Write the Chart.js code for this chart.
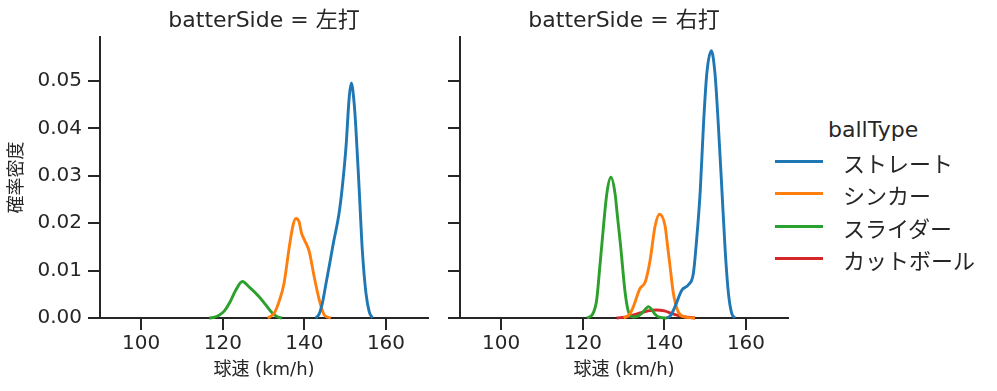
<!DOCTYPE html>
<html lang="ja">
<head>
<meta charset="utf-8">
<title>球速 確率密度</title>
<script src="https://cdn.jsdelivr.net/npm/chart.js"></script>
<style>
  html, body { margin: 0; padding: 0; background: #fff; }
  #wrap { position: relative; width: 997px; height: 391px; font-family: 'DejaVu Sans', 'Noto Sans CJK JP', sans-serif; color: #262626; }
  .panel { position: absolute; top: 0; height: 391px; }
  #leftPanel { left: 0; width: 440px; }
  #rightPanel { left: 440px; width: 350px; }
  #legendTitle { position: absolute; left: 828px; top: 117px; font-size: 22px; line-height: 26px; }
  .legendItem { position: absolute; left: 775px; height: 26px; font-size: 22px; line-height: 26px; }
  .legendItem span.swatch { position: absolute; left: 0; top: 11px; width: 48px; height: 3px; }
  .legendItem span.label { position: absolute; left: 68px; top: 0; white-space: nowrap; font-family: 'Noto Sans CJK JP', sans-serif; }
</style>
</head>
<body>
<div id="wrap">
  <div class="panel" id="leftPanel"><canvas id="chartLeft"></canvas></div>
  <div class="panel" id="rightPanel"><canvas id="chartRight"></canvas></div>
  <div id="legendTitle">ballType</div>
</div>
<script>
// 球種と色
const ballTypes = ['ストレート', 'シンカー', 'スライダー', 'カットボール'];
const ballColors = ['#1f77b4', '#ff7f0e', '#2ca02c', '#d62728'];

// 目盛り
const xTicks = [100, 120, 140, 160];
const yTicks = [0, 0.01, 0.02, 0.03, 0.04, 0.05];
const yTickLabels = ['0.00', '0.01', '0.02', '0.03', '0.04', '0.05'];

// 左打
const leftStraightSpeed = [142.8, 143.6, 144.4, 145.3, 146.1, 147.1, 148.5, 149.3, 150.2, 151.0, 151.5, 152.2, 152.6, 153.4, 154.2, 155.1, 155.9, 156.7];
const leftStraightDensity = [0, 0.0008, 0.0031, 0.0073, 0.0110, 0.0158, 0.0221, 0.0277, 0.0361, 0.0467, 0.0496, 0.0453, 0.0404, 0.0277, 0.0143, 0.0052, 0.0013, 0];
const leftSinkerSpeed = [131.0, 132.6, 133.8, 135.0, 136.3, 137.2, 137.9, 138.7, 139.3, 140.0, 140.8, 141.2, 142.4, 143.6, 144.9, 146.5];
const leftSinkerDensity = [0, 0.0010, 0.0035, 0.0073, 0.0150, 0.0195, 0.0210, 0.0203, 0.0179, 0.0165, 0.0150, 0.0140, 0.0087, 0.0040, 0.0006, 0];
const leftSliderSpeed = [116.7, 118.0, 119.1, 120.4, 121.6, 123.2, 124.8, 126.5, 128.9, 130.6, 132.2, 133.5, 134.5];
const leftSliderDensity = [0, 0.0002, 0.0006, 0.0015, 0.0031, 0.0059, 0.0077, 0.0065, 0.0045, 0.0027, 0.0010, 0.0002, 0];

// 右打
const rightStraightSpeed = [140.6, 141.6, 142.6, 144.3, 145.9, 147.1, 147.9, 148.8, 149.6, 150.4, 151.5, 152.4, 153.2, 154.1, 154.9, 155.7, 156.5, 157.3];
const rightStraightDensity = [0, 0.0006, 0.0024, 0.0059, 0.0070, 0.0094, 0.0165, 0.0270, 0.0411, 0.0516, 0.0564, 0.0516, 0.0411, 0.0270, 0.0143, 0.0052, 0.0010, 0];
const rightSinkerSpeed = [130.0, 131.5, 132.4, 134.0, 135.3, 136.5, 137.7, 138.8, 140.2, 140.6, 141.4, 142.2, 143.4, 145.1, 147.5];
const rightSinkerDensity = [0, 0.0008, 0.0024, 0.0062, 0.0076, 0.0122, 0.0193, 0.0219, 0.0193, 0.0165, 0.0108, 0.0052, 0.0013, 0.0002, 0];
const rightSliderSpeed = [121.0, 122.4, 123.4, 124.1, 124.7, 125.9, 126.9, 127.9, 128.5, 129.2, 130.4, 131.2, 132.4, 133.5, 134.5, 135.3, 136.1, 136.9, 137.7, 139.0, 140.6];
const rightSliderDensity = [0, 0.0008, 0.0038, 0.0101, 0.0158, 0.0263, 0.0297, 0.0263, 0.0214, 0.0158, 0.0052, 0.0013, 0.0002, 0.0004, 0.0010, 0.0018, 0.0024, 0.0018, 0.0008, 0.0001, 0];
const rightCutterSpeed = [128.3, 131.0, 133.5, 136.0, 138.0, 140.0, 142.0, 144.0, 147.5];
const rightCutterDensity = [0, 0.0003, 0.0009, 0.0015, 0.0017, 0.0015, 0.0009, 0.0004, 0];

const FONT = "'DejaVu Sans', 'Noto Sans CJK JP', sans-serif";
const INK = '#262626';

function toPoints(xs, ys) {
    return xs.map((x, i) => ({ x: x, y: ys[i] }));
}

function curve(typeIndex, xs, ys) {
    return {
        label: ballTypes[typeIndex],
        data: toPoints(xs, ys),
        borderColor: ballColors[typeIndex],
        borderWidth: 2.9,
        pointRadius: 0,
        fill: false,
        cubicInterpolationMode: 'monotone',
        clip: 4
    };
}

function makePanel(canvasId, titleText, datasets, isFirst) {
    return new Chart(document.getElementById(canvasId), {
        type: 'line',
        data: { datasets: datasets },
        options: {
            responsive: true,
            maintainAspectRatio: false,
            animation: false,
            devicePixelRatio: 1,
            layout: { padding: { left: 0, right: isFirst ? 12 : 2, top: 0, bottom: 0 } },
            plugins: {
                legend: { display: false },
                tooltip: { enabled: false },
                title: {
                    display: true,
                    text: titleText,
                    fullSize: false,
                    color: INK,
                    font: { family: FONT, size: 22, weight: 'normal', lineHeight: 1.2 },
                    padding: { top: 8, bottom: 2.6 }
                }
            },
            scales: {
                x: {
                    type: 'linear',
                    min: 89.9,
                    max: 170.3,
                    afterBuildTicks: s => { s.ticks = xTicks.map(v => ({ value: v })); },
                    afterFit: s => { s.height = 73; },
                    border: { display: true, color: INK, width: 2 },
                    grid: { drawOnChartArea: false, drawTicks: true, tickLength: 12, color: INK, lineWidth: 2 },
                    ticks: { color: INK, padding: 2, maxRotation: 0, font: { family: FONT, size: 20 } },
                    title: {
                        display: true,
                        text: '球速 (km/h)',
                        color: INK,
                        font: { family: FONT, size: 18, lineHeight: 1.2 },
                        padding: { top: 0, bottom: 10 }
                    }
                },
                y: {
                    type: 'linear',
                    min: 0,
                    max: 0.0593,
                    afterBuildTicks: s => { s.ticks = yTicks.map(v => ({ value: v })); },
                    afterFit: s => { s.width = isFirst ? 100 : 20; },
                    border: { display: true, color: INK, width: 2 },
                    grid: { drawOnChartArea: false, drawTicks: true, tickLength: 12, color: INK, lineWidth: 2 },
                    ticks: {
                        display: isFirst,
                        color: INK,
                        padding: 6,
                        font: { family: FONT, size: 20 },
                        callback: v => yTickLabels[yTicks.indexOf(v)]
                    },
                    title: {
                        display: isFirst,
                        text: '確率密度',
                        color: INK,
                        font: { family: FONT, size: 18, lineHeight: 1.2 },
                        padding: { top: 7, bottom: 0 }
                    }
                }
            }
        }
    });
}

document.addEventListener('DOMContentLoaded', function () {
    // 左打パネル
    makePanel('chartLeft', 'batterSide = 左打', [
        curve(0, leftStraightSpeed, leftStraightDensity),
        curve(1, leftSinkerSpeed, leftSinkerDensity),
        curve(2, leftSliderSpeed, leftSliderDensity)
    ], true);

    // 右打パネル
    makePanel('chartRight', 'batterSide = 右打', [
        curve(0, rightStraightSpeed, rightStraightDensity),
        curve(1, rightSinkerSpeed, rightSinkerDensity),
        curve(2, rightSliderSpeed, rightSliderDensity),
        curve(3, rightCutterSpeed, rightCutterDensity)
    ], false);

    // 凡例
    const wrap = document.getElementById('wrap');
    ballTypes.forEach((name, i) => {
        const item = document.createElement('div');
        item.className = 'legendItem';
        item.style.top = (149 + i * 32.3) + 'px';
        item.innerHTML = '<span class="swatch" style="background:' + ballColors[i] + '"></span><span class="label">' + name + '</span>';
        wrap.appendChild(item);
    });
});
</script>
</body>
</html>
